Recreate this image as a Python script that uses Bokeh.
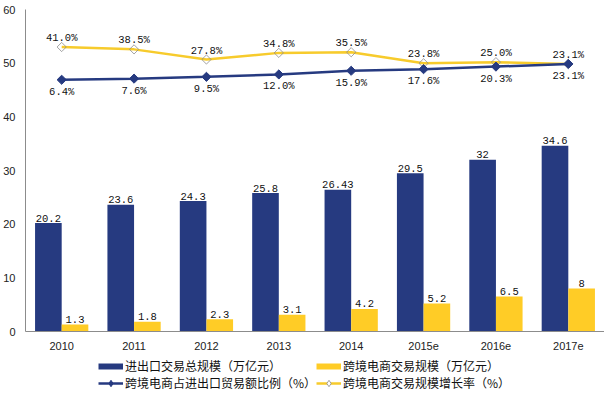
import math
from bokeh.plotting import figure
from bokeh.layouts import column
from bokeh.models import (FactorRange, Range1d, ColumnDataSource, Legend, LegendItem,
                          FixedTicker)
from bokeh.transform import dodge
from bokeh.core.properties import value
from bokeh.embed import file_html
from bokeh.resources import INLINE

# ---- data ----
years = ["2010", "2011", "2012", "2013", "2014", "2015e", "2016e", "2017e"]
total_trade = [20.2, 23.6, 24.3, 25.8, 26.43, 29.5, 32, 34.6]        # 进出口交易总规模（万亿元）
ecommerce = [1.3, 1.8, 2.3, 3.1, 4.2, 5.2, 6.5, 8]                     # 跨境电商交易规模（万亿元）
share_pct = [6.4, 7.6, 9.5, 12.0, 15.9, 17.6, 20.3, 23.1]              # 跨境电商占进出口贸易额比例（%）
growth_pct = [41.0, 38.5, 27.8, 34.8, 35.5, 23.8, 25.0, 23.1]          # 跨境电商交易规模增长率（%）
y_ticks = [0, 10, 20, 30, 40, 50, 60]

series_names = ["进出口交易总规模（万亿元）", "跨境电商交易规模（万亿元）",
                "跨境电商占进出口贸易额比例（%）", "跨境电商交易规模增长率（%）"]

DARK = "#263A80"
YELLOW = "#FFCC26"
YLINE = "#F7CB2C"
MARK_EDGE = "#8a8a8a"

src = ColumnDataSource(dict(
    year=years,
    total=total_trade,
    ecom=ecommerce,
    share=share_pct,
    growth=growth_pct,
    total_lbl=[f"{v:g}" for v in total_trade],
    ecom_lbl=[f"{v:g}" for v in ecommerce],
    share_lbl=[f"{v:.1f}%" for v in share_pct],
    growth_lbl=[f"{v:.1f}%" for v in growth_pct],
))

p = figure(x_range=FactorRange(*years, range_padding=0, factor_padding=0),
           y_range=Range1d(0, 60),
           width=604, height=352, output_backend="svg", toolbar_location=None,
           min_border_left=17, min_border_right=0, min_border_top=9, min_border_bottom=20)
# hidden secondary scale for the two percentage lines
p.extra_y_ranges = {"pct": Range1d(-259.4, 80.6)}

p.outline_line_color = None
p.xgrid.grid_line_color = None
p.ygrid.grid_line_color = None
p.background_fill_color = "white"

BW = 0.368
p.vbar(x=dodge("year", -BW / 2, range=p.x_range), top="total", width=BW, source=src,
       fill_color=DARK, line_color=None)
p.vbar(x=dodge("year", BW / 2, range=p.x_range), top="ecom", width=BW, source=src,
       fill_color=YELLOW, line_color=None)

num_font = value("Liberation Mono")
p.text(x=dodge("year", -BW / 2, range=p.x_range), y="total", text="total_lbl", source=src,
       text_font=num_font, text_font_size="10.5px", text_color="#111",
       text_align="center", text_baseline="alphabetic", y_offset=-5)
p.text(x=dodge("year", BW / 2, range=p.x_range), y="ecom", text="ecom_lbl", source=src,
       text_font=num_font, text_font_size="10.5px", text_color="#111",
       text_align="center", text_baseline="alphabetic", y_offset=-5)

# growth line (yellow)
p.line(x="year", y="growth", source=src, y_range_name="pct",
       line_color=YLINE, line_width=2.5)
p.scatter(x="year", y="growth", source=src, y_range_name="pct",
          marker="square", angle=math.pi / 4, size=6.5,
          fill_alpha=0, line_color=MARK_EDGE, line_width=0.8)
# share line (blue)
p.line(x="year", y="share", source=src, y_range_name="pct",
       line_color=DARK, line_width=2.5)
p.scatter(x="year", y="share", source=src, y_range_name="pct",
          marker="square", angle=math.pi / 4, size=6.5,
          fill_color=DARK, line_color=DARK)

p.text(x="year", y="growth", text="growth_lbl", source=src, y_range_name="pct",
       text_font=num_font, text_font_size="10.5px", text_color="#111",
       text_align="center", text_baseline="alphabetic", y_offset=-9)
p.text(x="year", y="share", text="share_lbl", source=src, y_range_name="pct",
       text_font=num_font, text_font_size="10.5px", text_color="#111",
       text_align="center", text_baseline="top", y_offset=6)

for ax in (p.xaxis[0], p.yaxis[0]):
    ax.axis_line_color = "#8c8c8c"
    ax.axis_line_width = 1
    ax.major_tick_line_color = None
    ax.minor_tick_line_color = None
    ax.major_label_text_font = "Liberation Sans"
    ax.major_label_text_font_size = "11px"
    ax.major_label_text_color = "#222222"
p.xaxis.major_label_standoff = 4
p.yaxis.major_label_standoff = 4
p.yaxis.ticker = FixedTicker(ticks=y_ticks)

# ---- legend strip (separate small figure below the chart) ----
# its glyphs use the real data but fall outside this strip's 0..1 ranges,
# so only their legend swatches are visible
q = figure(width=604, height=41, output_backend="svg", toolbar_location=None,
           x_range=Range1d(0, 1), y_range=Range1d(0, 1),
           x_axis_location=None, y_axis_location=None,
           min_border_left=0, min_border_right=0, min_border_top=0, min_border_bottom=0)
q.outline_line_color = None
q.xgrid.grid_line_color = None
q.ygrid.grid_line_color = None

sw_dark = q.line(x="total", y="ecom", source=src, line_color=DARK, line_width=6)
sw_yel = q.line(x="total", y="ecom", source=src, line_color=YELLOW, line_width=6)
lg_sl = q.line(x="share", y="growth", source=src, line_color=DARK, line_width=2.5)
lg_sm = q.scatter(x="share", y="growth", source=src, marker="diamond",
                  size=6.5, fill_color=DARK, line_color=DARK)
lg_gl = q.line(x="share", y="growth", source=src, line_color=YLINE, line_width=2.5)
lg_gm = q.scatter(x="share", y="growth", source=src, marker="diamond",
                  size=6.5, fill_color="white", line_color=MARK_EDGE, line_width=0.8)

legend = Legend(items=[
    LegendItem(label=series_names[0], renderers=[sw_dark]),
    LegendItem(label=series_names[1], renderers=[sw_yel]),
    LegendItem(label=series_names[2], renderers=[lg_sl, lg_sm]),
    LegendItem(label=series_names[3], renderers=[lg_gl, lg_gm]),
], orientation="horizontal", ncols=2, location=(73, 2),
    spacing=0, padding=0, margin=0, glyph_width=25, glyph_height=16,
    label_height=13, label_width=191, label_standoff=2,
    label_text_font="Noto Sans CJK SC", label_text_font_size="12px",
    label_text_line_height=1.0,
    label_text_color="#111111",
    border_line_alpha=0, background_fill_alpha=0)
q.add_layout(legend)

layout = column(p, q, spacing=0)
open("out.html", "w").write(file_html(layout, INLINE))
